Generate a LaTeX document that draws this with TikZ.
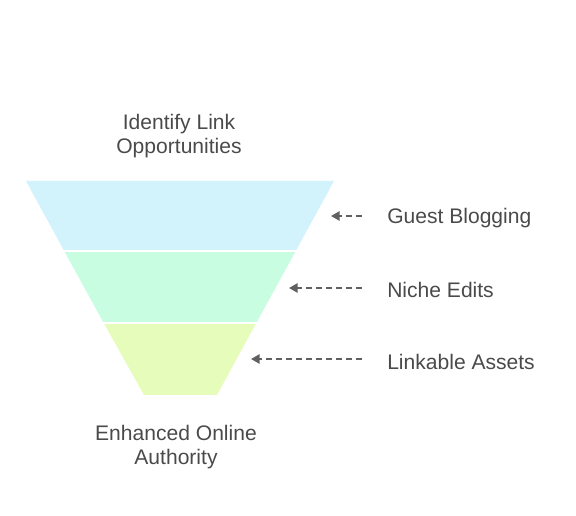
\documentclass[tikz,border=0pt]{standalone}
\usepackage{fontspec}
\setmainfont{Liberation Sans}
\usetikzlibrary{arrows.meta}
\definecolor{txt}{HTML}{4A4A4A}
\definecolor{arrc}{HTML}{606060}
\definecolor{topc}{RGB}{210,242,252}
\definecolor{midc}{RGB}{200,253,226}
\definecolor{botc}{RGB}{230,252,186}
\tikzset{
  lbl/.style={text=txt, font=\fontsize{15.8}{18}\selectfont, inner sep=0pt},
  ttl/.style={lbl, align=center},
  side/.style={lbl, anchor=west},
  arr/.style={draw=arrc, line width=1.5pt, dash pattern=on 4.5pt off 3pt, -{Triangle[length=6.5pt,width=7pt]}},
  sep/.style={draw=white, line width=1.5pt}
}
\begin{document}
\begin{tikzpicture}[x=0.75pt,y=-0.75pt]
\useasboundingbox (0,0) rectangle (576,516);
% funnel levels
\fill[topc] (26,181) -- (334,181) -- (295.5,251.5) -- (64.5,251.5) -- cycle;
\fill[midc] (64.5,251.5) -- (295.5,251.5) -- (256,323.5) -- (104,323.5) -- cycle;
\fill[botc] (104,323.5) -- (256,323.5) -- (217,395) -- (144,395) -- cycle;
\draw[sep] (60,251.5) -- (300,251.5);
\draw[sep] (100,323.5) -- (260,323.5);
% titles
\node[ttl] (top) at (179,136) {Identify Link\\Opportunities};
\node[ttl] (bot) at (176,447) {Enhanced Online\\Authority};
% side labels
\node[side] (gb) at (387,218) {Guest Blogging};
\node[side] (ne) at (387,290) {Niche Edits};
\node[side] (la) at (387,362) {Linkable Assets};
\coordinate (gbt) at (331,216);
\coordinate (net) at (289,288);
\coordinate (lat) at (251,359);
\coordinate (gbs) at (362,216);
\coordinate (nes) at (362,288);
\coordinate (las) at (362,359);
\draw[arr] (gbs) -- (gbt);
\draw[arr] (nes) -- (net);
\draw[arr] (las) -- (lat);
\end{tikzpicture}
\end{document}
